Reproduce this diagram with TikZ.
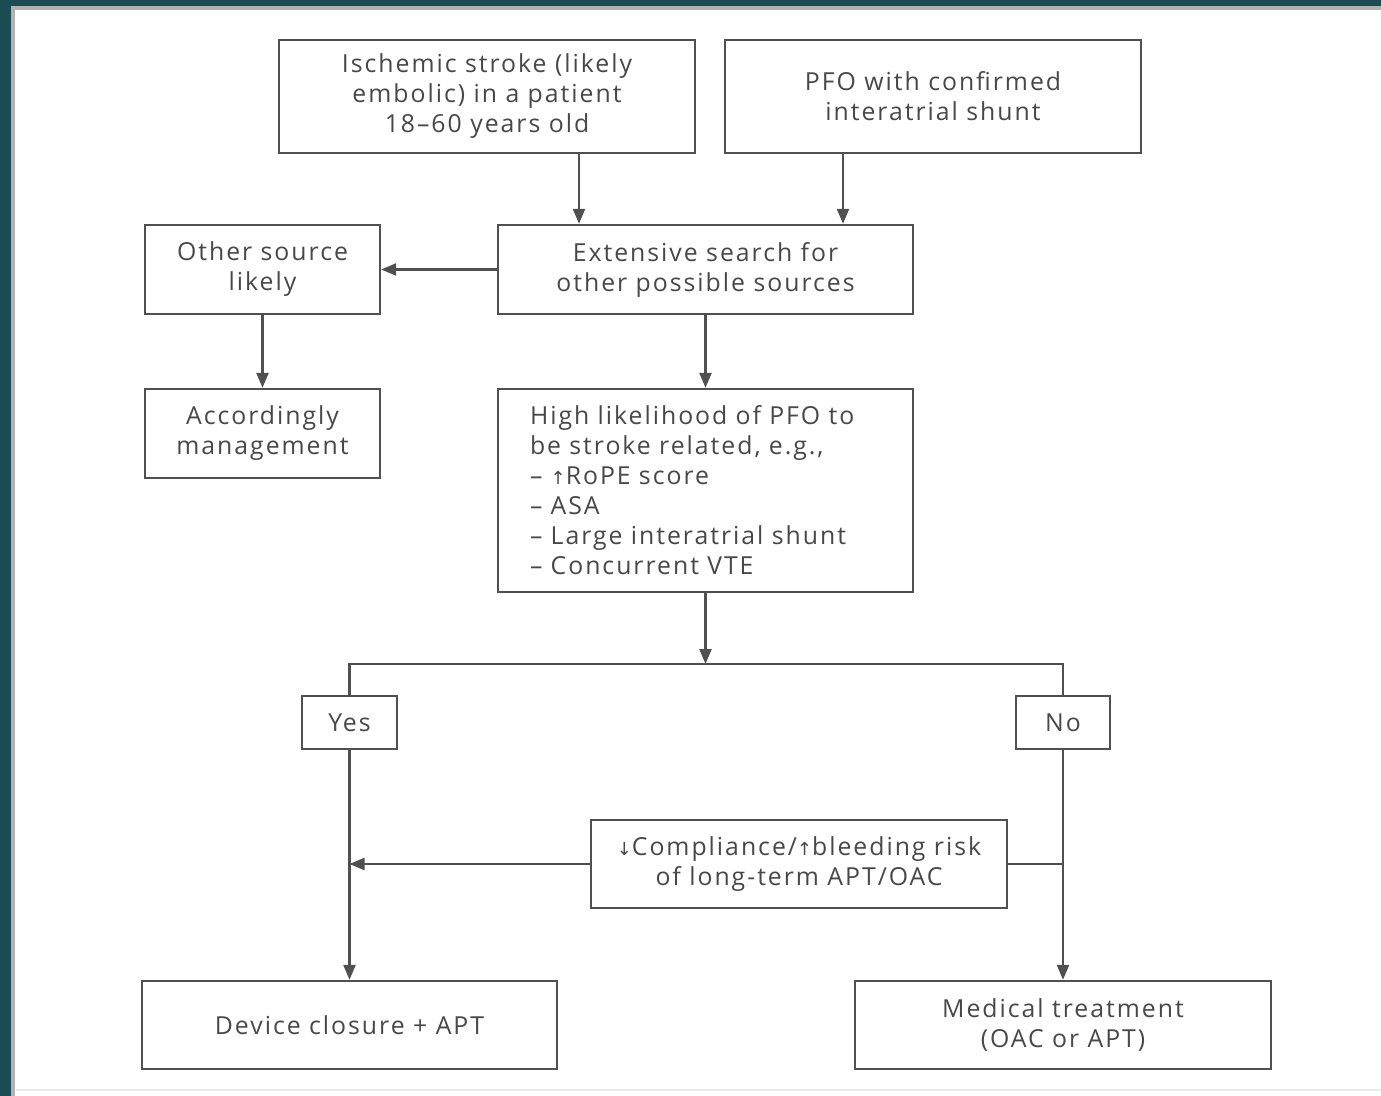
\documentclass[tikz,border=0pt]{standalone}
\usepackage{fontspec}
\setmainfont{Open Sans}[LetterSpace=8]
\newfontfamily\arrowfont{DejaVu Sans}
\usepackage{tikz}
\usepackage{xcolor}
\usetikzlibrary{shapes,positioning,arrows.meta}

\definecolor{frameteal}{RGB}{27,76,84}
\definecolor{ink}{RGB}{80,80,80}
\definecolor{textgray}{RGB}{72,72,72}
\newcommand{\uparr}{{\arrowfont\fontsize{9}{9}\selectfont ↑}}
\newcommand{\downarr}{{\arrowfont\fontsize{9}{9}\selectfont ↓}}
\tikzset{box/.style={draw=ink,line width=1.2pt,text=textgray,align=center,inner sep=0pt,
    font=\fontsize{12.4}{15}\selectfont}}

\begin{document}
\begin{tikzpicture}[x=0.5pt,y=-0.5pt,>={Triangle[length=7.5pt,width=6pt]},line width=1.2pt,draw=ink]
       \useasboundingbox (0,0) rectangle (1381,1096);
       \fill[frameteal] (0,0) rectangle (1381,1096);
       \fill[white] (12,7) rectangle (1381,1096);
       \draw[black!30,line width=2pt] (13,1096) -- (13,8) -- (1381,8);
       \draw[black!8,line width=1pt] (16,1090) -- (1381,1090);

       \node (stroke) [box,minimum width=208pt,minimum height=56.5pt] at (487,96.5)     {Ischemic stroke (likely\\embolic) in a patient\\18–60 years old};
       \node (pfo) [box,minimum width=208pt,minimum height=56.5pt] at (933,96.5)        {PFO with confirmed\\interatrial shunt};
       \node (search) [box,minimum width=207.5pt,minimum height=44.5pt] at (705.5,269.5) {Extensive search for\\other possible sources};
       \node (other) [box,minimum width=117.5pt,minimum height=44.5pt] at (262.5,269.5)  {Other source\\likely};
       \node (manage) [box,minimum width=117.5pt,minimum height=44.5pt] at (262.5,433.5) {Accordingly\\management};
       \node (high) [box,align=left,inner xsep=16pt,text width=175.5pt,minimum height=101.5pt] at (705.5,490.5)
            {High likelihood of PFO to\\be stroke related, e.g.,\\– \uparr RoPE score\\– ASA\\– Large interatrial shunt\\– Concurrent VTE};
       \node (yes) [box,minimum width=47.5pt,minimum height=26.5pt] at (349.5,722.5)    {Yes};
       \node (no) [box,minimum width=47pt,minimum height=26.5pt] at (1063,722.5)        {No};
       \node (comply) [box,minimum width=208pt,minimum height=44pt] at (799,864)         {\downarr Compliance/\uparr bleeding risk\\of long-term APT/OAC};
       \node (device) [box,minimum width=207.5pt,minimum height=44pt] at (349.5,1025)    {Device closure + APT};
       \node (medical) [box,minimum width=208pt,minimum height=44pt] at (1063,1025)      {Medical treatment\\(OAC or APT)};

       \coordinate (split) at (705.5,664);
       \draw[->] ([xshift=46pt]stroke.south) -- ([xshift=46pt]stroke.south |- search.north);
       \draw[->] ([xshift=-45pt]pfo.south) -- ([xshift=-45pt]pfo.south |- search.north);
       \draw[->] (search) -- (other);
       \draw[->] (other) -- (manage);
       \draw[->] (search) -- (high);
       \draw[->] (high) -- (split);
       \draw (yes.north) |- (split) -| (no.north);
       \draw[->] (yes) -- (device);
       \draw[->] (no) -- (medical);
       \draw[->] (comply.west) -- (comply.west -| yes.south);
       \draw (comply.east) -- (comply.east -| no.south);
    \end{tikzpicture}
\end{document}
